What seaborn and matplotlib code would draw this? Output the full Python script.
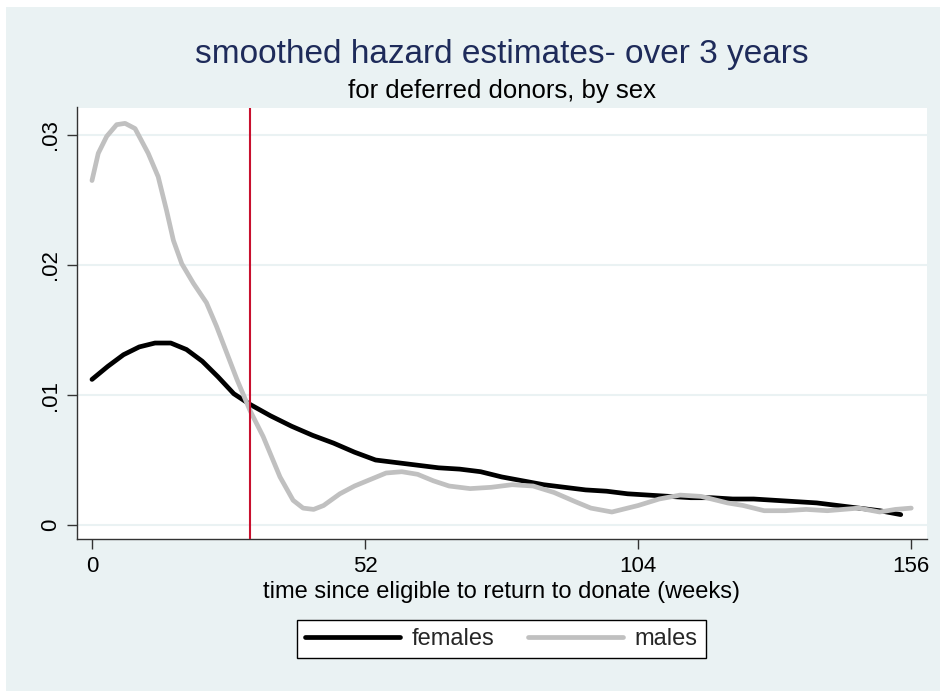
import numpy as np
import pandas as pd
import matplotlib
matplotlib.use("Agg")
import matplotlib.pyplot as plt
from matplotlib.lines import Line2D
import seaborn as sns

# ---- data ----
female_weeks = [0, 3, 6, 9, 12, 15, 18, 21, 24, 27, 30, 34, 38, 42, 46, 50, 54, 58, 62, 66,
                70, 74, 78, 82, 86, 90, 94, 98, 102, 106, 110, 114, 118, 122, 126, 130,
                134, 138, 142, 146, 150, 154]
female_hazard = [0.0112, 0.0122, 0.0131, 0.0137, 0.0140, 0.0140, 0.0135, 0.0126, 0.0114, 0.0101,
                 0.0093, 0.0084, 0.0076, 0.0069, 0.0063, 0.0056, 0.0050, 0.0048, 0.0046, 0.0044,
                 0.0043, 0.0041, 0.0037, 0.0034, 0.0031, 0.0029, 0.0027, 0.0026, 0.0024, 0.0023,
                 0.0022, 0.0021, 0.0021, 0.0020, 0.0020, 0.0019, 0.0018, 0.0017, 0.0015, 0.0013,
                 0.0011, 0.0008]
male_weeks = [0, 1.2, 2.8, 4.7, 6.3, 8.2, 10.7, 12.6, 14.2, 15.5, 17.1, 19.3, 21.8, 23.7, 25.7,
              27.6, 30.1, 32.6, 35.8, 38.3, 40.2, 42.2, 44.1, 47.2, 50, 53, 56, 59, 62, 65, 68,
              72, 76, 80, 84, 88, 92, 95, 99, 104, 108, 112, 116, 121, 124, 128, 132, 136, 140,
              143, 146, 150, 153, 156]
male_hazard = [0.0265, 0.0286, 0.0299, 0.0308, 0.0309, 0.0305, 0.0286, 0.0268, 0.0242, 0.0219,
               0.0201, 0.0186, 0.0171, 0.0153, 0.0132, 0.0112, 0.0088, 0.0068, 0.0037, 0.0019,
               0.0013, 0.0012, 0.0015, 0.0024, 0.0030, 0.0035, 0.0040, 0.0041, 0.0039, 0.0034,
               0.0030, 0.0028, 0.0029, 0.0031, 0.0030, 0.0025, 0.0018, 0.0013, 0.0010, 0.0015,
               0.0020, 0.0023, 0.0022, 0.0017, 0.0015, 0.0011, 0.0011, 0.0012, 0.0011, 0.0012,
               0.0013, 0.0010, 0.0012, 0.0013]
series_labels = ["females", "males"]
x_ticks = [0, 52, 104, 156]
y_ticks = [0, 0.01, 0.02, 0.03]
y_tick_labels = ["0", ".01", ".02", ".03"]
ref_week = 30

title = "smoothed hazard estimates- over 3 years"
subtitle = "for deferred donors, by sex"
xlabel = "time since eligible to return to donate (weeks)"

df = pd.concat([
    pd.DataFrame({"week": female_weeks, "hazard": female_hazard, "sex": series_labels[0]}),
    pd.DataFrame({"week": male_weeks, "hazard": male_hazard, "sex": series_labels[1]}),
])

# ---- style ----
sns.set_style("white")
plt.rcParams["font.family"] = ["Liberation Sans", "DejaVu Sans"]

bg = "#EAF2F3"
W, H = 940, 691
fig = plt.figure(figsize=(9.4, 6.91), dpi=100)
fig.patch.set_facecolor("white")
fig.patches.append(plt.Rectangle((6 / W, 0), 1, (H - 7) / H, transform=fig.transFigure,
                                 facecolor=bg, edgecolor="none", zorder=-10))

ax = fig.add_axes([76.7 / W, 1 - 539.3 / H, (927 - 76.7) / W, (539.3 - 107.5) / H])
ax.set_facecolor("white")

sns.lineplot(data=df, x="week", y="hazard", hue="sex", estimator=None, sort=True,
             palette={"females": "black", "males": "#C0C0C0"}, linewidth=3.4, ax=ax,
             legend=False)

ax.axvline(ref_week, color="#C8102E", linewidth=1.5, zorder=5)

ax.set_xlim(-2.91, 159.0)
ax.set_ylim(-0.0011, 0.03212)
ax.set_xticks(x_ticks)
ax.set_xticklabels([str(t) for t in x_ticks])
ax.set_yticks(y_ticks)
ax.set_yticklabels(y_tick_labels, rotation=90, va="center")
for y in y_ticks:
    ax.axhline(y, color=bg, linewidth=1.5, zorder=0)

for s in ["top", "right"]:
    ax.spines[s].set_visible(False)
for s in ["left", "bottom"]:
    ax.spines[s].set_color("#333333")
    ax.spines[s].set_linewidth(1.0)
ax.tick_params(axis="both", which="major", direction="out", length=7, width=1.0,
               color="#333333", labelsize=16, labelcolor="black", bottom=True, left=True)
ax.tick_params(axis="x", pad=5)
ax.tick_params(axis="y", pad=4)

ax.set_xlabel("")
ax.set_ylabel("")

cx = (76.7 + 927) / 2 / W
fig.text(cx, 1 - 63 / H, title, ha="center", va="baseline", fontsize=24, color="#1E2B5A")
fig.text(cx, 1 - 98 / H, subtitle, ha="center", va="baseline", fontsize=18.5, color="black")
fig.text(cx, 1 - 598 / H, xlabel, ha="center", va="baseline", fontsize=17, color="black")

handles = [Line2D([0], [0], color="black", linewidth=3.4),
           Line2D([0], [0], color="#C0C0C0", linewidth=3.4)]
leg = fig.legend(handles, series_labels, loc="center", bbox_to_anchor=(501.5 / W, 1 - 639 / H),
                 ncol=2, frameon=True, fancybox=False, fontsize=17, handlelength=4.0,
                 columnspacing=1.45, handletextpad=0.5, borderpad=0.35)
leg.get_frame().set_edgecolor("black")
leg.get_frame().set_linewidth(1.0)
leg.get_frame().set_facecolor("white")
leg.get_frame().set_alpha(1.0)

fig.savefig("out.png", dpi=100, facecolor=fig.get_facecolor())
